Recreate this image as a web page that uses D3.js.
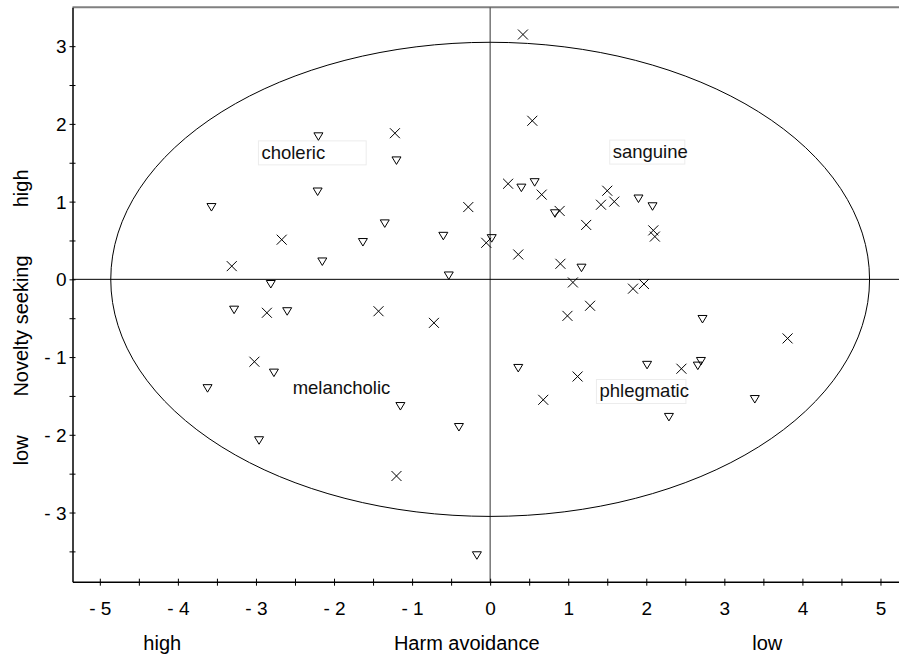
<!DOCTYPE html>
<html>
<head>
<meta charset="utf-8">
<script src="https://cdn.jsdelivr.net/npm/d3@7"></script>
<style>
  html, body { margin: 0; padding: 0; background: #fff; }
  svg { display: block; font-family: "Liberation Sans", Arial, sans-serif; }
</style>
</head>
<body>
<svg id="chart" width="899" height="657"></svg>
<script>
// ---- data ----
const crossX = [0.42, -1.22, 0.54, 0.23, 0.66, 0.89, 1.23, -0.28, -0.05, 0.36, 0.90, 1.06, 1.28, 0.99,
  -1.43, -0.72, -2.67, -3.31, -2.86, -3.02, 1.50, 1.42, 1.59, 2.09, 2.11, 1.83, 1.97, 1.12, 0.68, -1.20, 2.45, 3.81];
const crossY = [3.15, 1.88, 2.04, 1.23, 1.09, 0.88, 0.70, 0.93, 0.47, 0.32, 0.20, -0.04, -0.34, -0.47,
  -0.41, -0.56, 0.51, 0.17, -0.43, -1.06, 1.14, 0.96, 1.00, 0.63, 0.55, -0.12, -0.06, -1.25, -1.55, -2.53, -1.15, -0.76];
const triX = [-3.57, -2.20, -1.20, -2.21, -1.35, -1.63, -2.15, -0.60, 0.02, -0.53, 0.40, 0.57, 0.83, 1.90, 2.08,
  1.17, 2.72, -2.81, -3.28, -2.60, -2.77, -3.62, -2.96, 0.36, -1.15, -0.40, -0.17, 2.01, 2.66, 2.70, 3.39, 2.29];
const triY = [0.93, 1.84, 1.53, 1.13, 0.72, 0.48, 0.23, 0.56, 0.53, 0.05, 1.18, 1.25, 0.85, 1.04, 0.94,
  0.15, -0.51, -0.06, -0.39, -0.41, -1.20, -1.40, -2.07, -1.14, -1.63, -1.90, -3.55, -1.10, -1.11, -1.05, -1.54, -1.77];

const xTicks = [-5, -4, -3, -2, -1, 0, 1, 2, 3, 4, 5];
const yTicks = [-3, -2, -1, 0, 1, 2, 3];
const xMinor = [-4.5, -3.5, -2.5, -1.5, -0.5, 0.5, 1.5, 2.5, 3.5, 4.5];
const yMinor = [-3.5, -2.5, -1.5, -0.5, 0.5, 1.5, 2.5];

const quadrantLabels = ["choleric", "sanguine", "melancholic", "phlegmatic"];
const quadrantX = [-2.93, 1.57, -2.53, 1.40];
const quadrantY = [1.55, 1.56, -1.48, -1.52];

const xTitles = ["high", "Harm avoidance", "low"];
const xTitlePos = [-4.2, -0.3, 3.55];
const yTitles = ["high", "Novelty seeking", "low"];
const yTitlePos = [1.17, -0.6, -2.2];

const ellipseR = [4.86, 3.05];

// ---- scales ----
const svg = d3.select("#chart");
const x = d3.scaleLinear().domain([-5.35, 5.25]).range([72.5, 900]);
const y = d3.scaleLinear().domain([-3.89, 3.5]).range([581.7, 7.3]);

const fmt = d => d < 0 ? "- " + Math.abs(d) : String(d);

// top border
svg.append("line").attr("x1", x(-5.35)).attr("x2", 899).attr("y1", y(3.5)).attr("y2", y(3.5))
  .attr("stroke", "#808080").attr("stroke-width", 2);

// zero lines
svg.append("line").attr("x1", x(0)).attr("x2", x(0)).attr("y1", y(3.5)).attr("y2", y(-3.89))
  .attr("stroke", "#555").attr("stroke-width", 1.2);
svg.append("line").attr("x1", x(-5.35)).attr("x2", 899).attr("y1", y(0)).attr("y2", y(0))
  .attr("stroke", "#000").attr("stroke-width", 1);

// ellipse
svg.append("ellipse").attr("cx", x(0)).attr("cy", y(0))
  .attr("rx", x(ellipseR[0]) - x(0)).attr("ry", y(0) - y(ellipseR[1]))
  .attr("fill", "none").attr("stroke", "#000").attr("stroke-width", 1);

// axes
const xAxisG = svg.append("g").attr("transform", `translate(0,${y(-3.89)})`);
xAxisG.call(d3.axisBottom(x).tickValues(xTicks.concat(xMinor)).tickSize(0).tickFormat(""));
xAxisG.select(".domain").attr("stroke", "#000").attr("stroke-width", 1.5);
xAxisG.selectAll(".tick line").attr("y1", -3).attr("y2", 4).attr("stroke", "#000").attr("stroke-width", 1);
xAxisG.selectAll(".tick").filter(d => xTicks.includes(d)).append("text")
  .attr("y", 33).attr("fill", "#000").attr("font-size", 19).attr("text-anchor", "middle")
  .text(d => fmt(d));

const yAxisG = svg.append("g").attr("transform", `translate(${x(-5.35)},0)`);
yAxisG.call(d3.axisLeft(y).tickValues(yTicks.concat(yMinor)).tickSize(0).tickFormat(""));
yAxisG.select(".domain").attr("stroke", "#000").attr("stroke-width", 1.5);
yAxisG.selectAll(".tick line").attr("x1", -3).attr("x2", 3).attr("stroke", "#000").attr("stroke-width", 1);
yAxisG.selectAll(".tick").filter(d => yTicks.includes(d)).append("text")
  .attr("x", -6).attr("dy", "0.35em").attr("fill", "#000").attr("font-size", 19).attr("text-anchor", "end")
  .text(d => fmt(d));

// quadrant label boxes + text
const qg = svg.append("g");
const boxExtra = [44, 0, 0, 0];
quadrantLabels.forEach((lab, i) => {
  const t = qg.append("text").attr("x", x(quadrantX[i])).attr("y", y(quadrantY[i]))
    .attr("font-size", 18.5).attr("fill", "#111").text(lab);
  if (i !== 2) {
    const bb = t.node().getBBox();
    qg.insert("rect", "text").attr("x", bb.x - 3).attr("y", bb.y - 1)
      .attr("width", bb.width + boxExtra[i]).attr("height", bb.height + 3)
      .attr("fill", "#fff").attr("stroke", "#ececec").attr("stroke-width", 1);
  }
});

// markers
const pts = svg.append("g");
crossX.forEach((cx, i) => {
  const px = x(cx), py = y(crossY[i]), s = 5;
  pts.append("path").attr("d", `M${px - s},${py - s}L${px + s},${py + s}M${px - s},${py + s}L${px + s},${py - s}`)
    .attr("stroke", "#000").attr("stroke-width", 1).attr("fill", "none");
});
triX.forEach((tx, i) => {
  const px = x(tx), py = y(triY[i]);
  pts.append("path").attr("d", `M${px - 4.5},${py - 3.5}L${px + 4.5},${py - 3.5}L${px},${py + 4}Z`)
    .attr("stroke", "#000").attr("stroke-width", 1).attr("fill", "none");
});

// titles
xTitles.forEach((t, i) => {
  svg.append("text").attr("x", x(xTitlePos[i])).attr("y", 650).attr("text-anchor", "middle")
    .attr("font-size", 20).attr("fill", "#000").text(t);
});
yTitles.forEach((t, i) => {
  svg.append("text").attr("transform", `translate(28,${y(yTitlePos[i])}) rotate(-90)`)
    .attr("text-anchor", "middle").attr("font-size", 20).attr("fill", "#000").text(t);
});
</script>
</body>
</html>
